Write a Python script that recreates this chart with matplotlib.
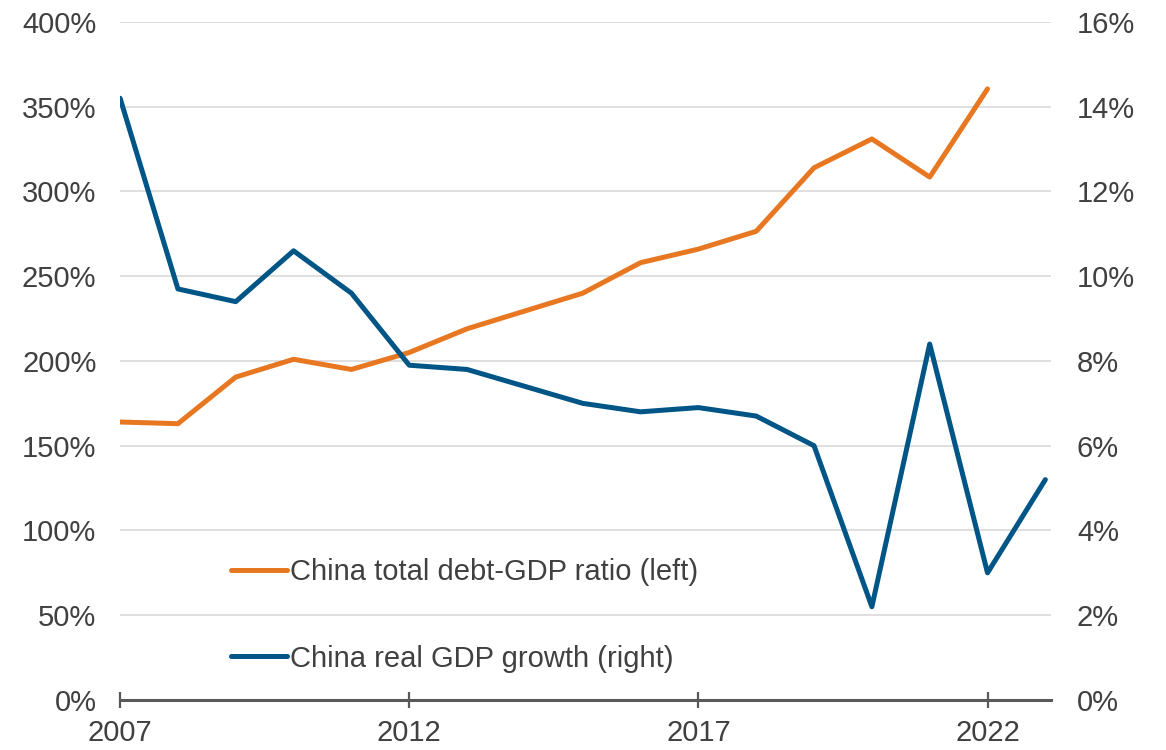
import matplotlib
matplotlib.use("Agg")
import matplotlib.pyplot as plt
from matplotlib.ticker import FuncFormatter, FixedLocator

plt.rcParams['font.family'] = ['Liberation Sans', 'DejaVu Sans']

years_debt = list(range(2007, 2023))
debt_ratio = [164, 163, 190.5, 201, 195, 205, 219, 229.5, 240, 258, 266, 276.5, 314, 331, 308.5, 360.5]

years_gdp = list(range(2007, 2024))
gdp_growth = [14.2, 9.7, 9.4, 10.6, 9.6, 7.9, 7.8, 7.4, 7.0, 6.8, 6.9, 6.7, 6.0, 2.2, 8.4, 3.0, 5.2]

x_ticks = [2007, 2012, 2017, 2022]
left_ticks = [0, 50, 100, 150, 200, 250, 300, 350, 400]
right_ticks = [0, 2, 4, 6, 8, 10, 12, 14, 16]

ORANGE = '#E87722'
BLUE = '#005587'
TEXT = '#404040'
GRID = '#D9D9D9'
FS = 21

fig = plt.figure(figsize=(11.66, 7.5), dpi=100)
ax = fig.add_axes([0.103, 0.0667, 0.798, 0.904])
ax2 = ax.twinx()

ax.plot(years_debt, debt_ratio, color=ORANGE, lw=3.6, solid_capstyle='round',
        solid_joinstyle='round', label='China total debt-GDP ratio (left)', zorder=3)
ax2.plot(years_gdp, gdp_growth, color=BLUE, lw=3.6, solid_capstyle='round',
         solid_joinstyle='round', label='China real GDP growth (right)', zorder=3)

ax.set_xlim(2007, 2023.09)
ax.set_ylim(0, 400)
ax2.set_ylim(0, 16)

ax.yaxis.set_major_locator(FixedLocator(left_ticks))
ax2.yaxis.set_major_locator(FixedLocator(right_ticks))
ax.yaxis.set_major_formatter(FuncFormatter(lambda v, p: f'{v:.0f}%'))
ax2.yaxis.set_major_formatter(FuncFormatter(lambda v, p: f'{v:.0f}%'))
ax.xaxis.set_major_locator(FixedLocator(x_ticks))

ax.grid(axis='y', color=GRID, lw=1.2, zorder=0)
ax.set_axisbelow(True)

for a in (ax, ax2):
    for s in ('top', 'left', 'right', 'bottom'):
        a.spines[s].set_visible(False)
ax.spines['bottom'].set_visible(True)
ax.spines['bottom'].set_color('#595959')
ax.spines['bottom'].set_linewidth(2.2)

ax.tick_params(axis='x', direction='inout', length=12, width=1.6, color='#595959',
               labelsize=FS, labelcolor=TEXT, pad=8)
ax.tick_params(axis='y', length=0, labelsize=FS, labelcolor=TEXT, pad=17)
ax2.tick_params(axis='y', length=0, labelsize=FS, labelcolor=TEXT, pad=19)

h1, l1 = ax.get_legend_handles_labels()
h2, l2 = ax2.get_legend_handles_labels()
leg = ax2.legend(h1 + h2, l1 + l2, loc='upper left', bbox_to_anchor=(0.186, 0.275),
                 bbox_transform=fig.transFigure, frameon=False, fontsize=FS,
                 labelcolor=TEXT, handlelength=1.9, handletextpad=0.1,
                 labelspacing=2.0, borderpad=0)

fig.savefig('out.png', dpi=100)
